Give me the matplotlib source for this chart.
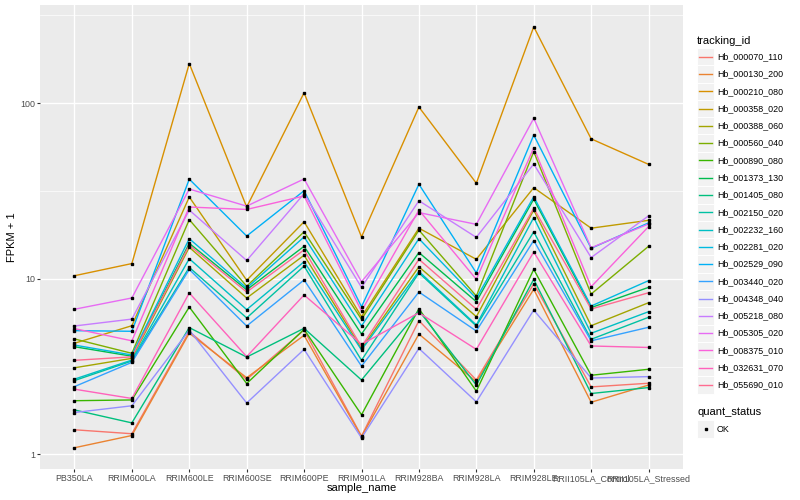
import matplotlib
matplotlib.use("Agg")
import matplotlib.pyplot as plt
from matplotlib.patches import Rectangle
from matplotlib.lines import Line2D

plt.rcParams['font.family'] = ['Liberation Sans', 'DejaVu Sans']

samples = ["PB350LA", "RRIM600LA", "RRIM600LE", "RRIM600SE", "RRIM600PE",
           "RRIM901LA", "RRIM928BA", "RRIM928LA", "RRIM928LE",
           "RRII105LA_Control", "RRII105LA_Stressed"]

tracking_ids = ["Hb_000070_110", "Hb_000130_200", "Hb_000210_080", "Hb_000358_020",
                "Hb_000388_060", "Hb_000560_040", "Hb_000890_080", "Hb_001373_130",
                "Hb_001405_080", "Hb_002150_020", "Hb_002232_160", "Hb_002281_020",
                "Hb_002529_090", "Hb_003440_020", "Hb_004348_040", "Hb_005218_080",
                "Hb_005305_020", "Hb_008375_010", "Hb_032631_070", "Hb_055690_010"]

colors = ["#F8766D", "#EA8331", "#D89000", "#C09B00", "#A3A500", "#7CAE00",
          "#39B600", "#00BB4E", "#00BF7D", "#00C1A3", "#00BFC4", "#00BAE0",
          "#00B0F6", "#35A2FF", "#9590FF", "#C77CFF", "#E76BF3", "#FA62DB",
          "#FF62BC", "#FF6C91"]

# FPKM + 1 values per sample
hb_000070_110 = [1.38, 1.31, 5.0, 2.67, 5.10, 1.27, 5.77, 2.65, 9.35, 2.42, 2.54]
hb_000130_200 = [1.09, 1.28, 4.9, 2.73, 4.76, 1.26, 4.84, 2.59, 8.71, 1.98, 2.48]
hb_000210_080 = [10.4, 12.2, 168, 25.6, 114.5, 17.3, 95, 35, 272, 62.6, 44.8]
hb_000358_020 = [4.29, 5.40, 29.2, 9.8, 21.1, 6.08, 19.4, 12.9, 33.0, 19.4, 21.5]
hb_000388_060 = [3.11, 3.52, 15.1, 7.76, 13.6, 4.01, 11.7, 6.08, 24.6, 5.40, 7.30]
hb_000560_040 = [4.54, 3.76, 21.7, 9.06, 18.5, 5.87, 18.9, 7.97, 52.9, 8.18, 15.3]
hb_000890_080 = [2.02, 2.04, 6.9, 2.53, 5.15, 1.68, 6.75, 2.29, 11.3, 2.82, 3.05]
hb_001373_130 = [4.10, 3.62, 15.9, 8.65, 15.3, 4.84, 14.1, 7.40, 28.4, 6.85, 8.93]
hb_001405_080 = [1.79, 1.51, 5.27, 3.58, 5.22, 2.65, 6.58, 2.48, 9.92, 2.22, 2.40]
hb_002150_020 = [2.63, 3.40, 11.6, 5.98, 11.8, 3.43, 10.8, 5.38, 18.5, 4.52, 6.03]
hb_002232_160 = [2.68, 3.44, 13.0, 6.67, 12.5, 3.93, 11.0, 5.45, 22.3, 4.89, 6.49]
hb_002281_020 = [4.19, 3.68, 16.9, 8.85, 17.3, 5.38, 16.9, 7.73, 29.3, 6.99, 9.75]
hb_002529_090 = [5.06, 5.02, 36.9, 17.5, 31.7, 6.93, 34.5, 10.8, 65.8, 14.9, 20.8]
hb_003440_020 = [2.43, 3.34, 11.3, 5.38, 9.84, 3.18, 8.40, 5.04, 16.5, 4.43, 5.29]
hb_004348_040 = [1.73, 1.89, 5.1, 1.96, 3.96, 1.24, 4.01, 1.99, 6.63, 2.72, 2.77]
hb_005218_080 = [5.38, 5.89, 24.6, 12.7, 30.5, 8.93, 27.8, 17.2, 45.0, 13.2, 22.8]
hb_005305_020 = [6.70, 7.77, 32.4, 25.9, 37.0, 9.61, 23.8, 20.4, 81.9, 15.0, 20.5]
hb_008375_010 = [5.20, 4.43, 25.6, 24.8, 29.6, 6.55, 24.6, 9.92, 55.7, 9.0, 19.8]
hb_032631_070 = [2.35, 2.08, 8.3, 3.6, 8.08, 4.23, 6.40, 3.96, 14.2, 4.14, 4.06]
hb_055690_010 = [3.43, 3.59, 15.5, 8.4, 14.6, 4.10, 12.9, 6.70, 25.2, 6.72, 8.32]

series = [hb_000070_110, hb_000130_200, hb_000210_080, hb_000358_020, hb_000388_060,
          hb_000560_040, hb_000890_080, hb_001373_130, hb_001405_080, hb_002150_020,
          hb_002232_160, hb_002281_020, hb_002529_090, hb_003440_020, hb_004348_040,
          hb_005218_080, hb_005305_020, hb_008375_010, hb_032631_070, hb_055690_010]

W, H = 800, 500
fig = plt.figure(figsize=(8, 5), dpi=100)
fig.patch.set_facecolor("white")

def fx(x):
    return x / W

def fy(y):
    return 1 - y / H

L, R, T, B = 40, 683, 5, 469
ax = fig.add_axes([fx(L), fy(B), fx(R - L), (B - T) / H])
ax.set_facecolor("#EBEBEB")
for s in ax.spines.values():
    s.set_visible(False)

xs = list(range(len(samples)))
for vals, c in zip(series, colors):
    ax.plot(xs, vals, color=c, lw=1.0, zorder=3)
for vals in series:
    ax.plot(xs, vals, ls="none", marker="s", ms=2.1, color="black", zorder=4)

ax.set_yscale("log")
ax.set_ylim(0.825, 362)
ax.set_xlim(-0.6, len(samples) - 0.4)
ax.set_yticks([1, 10, 100])
ax.set_yticklabels(["1", "10", "100"])
ax.set_yticks([10 ** 0.5, 10 ** 1.5, 10 ** 2.5], minor=True)
ax.set_xticks(xs)
ax.set_xticklabels(samples)
ax.grid(which="major", color="white", lw=1.0, zorder=0)
ax.grid(which="minor", axis="y", color="white", lw=0.5, zorder=0)
ax.set_axisbelow(True)
ax.tick_params(which="major", length=2.0, width=0.8, color="#333333",
               labelsize=6.4, labelcolor="#4D4D4D", pad=1.6)
ax.tick_params(which="minor", length=0)

fig.text(fx((L + R) / 2), fy(488), "sample_name", ha="center", va="center", fontsize=8)
fig.text(fx(12), fy((T + B) / 2), "FPKM + 1", ha="center", va="center",
         rotation=90, fontsize=8)

# legend: tracking_id
fig.text(fx(697), fy(40.5), "tracking_id", ha="left", va="center", fontsize=8)
key_h = 17.28
y0 = 56.7
for i, (name, c) in enumerate(zip(tracking_ids, colors)):
    yc = y0 + key_h * i
    fig.patches.append(Rectangle((fx(697), fy(yc + key_h / 2)), fx(17), key_h / H,
                                 transform=fig.transFigure, facecolor="#F2F2F2",
                                 edgecolor="white", lw=0.7))
    fig.lines.append(Line2D([fx(698.5), fx(712)], [fy(yc), fy(yc)],
                            transform=fig.transFigure, color=c, lw=1.0))
    fig.text(fx(717), fy(yc), name, ha="left", va="center", fontsize=6.4)

# legend: quant_status
fig.text(fx(697), fy(412), "quant_status", ha="left", va="center", fontsize=8)
yc = 429
fig.patches.append(Rectangle((fx(697), fy(yc + key_h / 2)), fx(17), key_h / H,
                             transform=fig.transFigure, facecolor="#F2F2F2",
                             edgecolor="white", lw=0.7))
fig.lines.append(Line2D([fx(705.5)], [fy(yc)], transform=fig.transFigure,
                        ls="none", marker="s", ms=2.1, color="black"))
fig.text(fx(717), fy(yc), "OK", ha="left", va="center", fontsize=6.4)

fig.savefig("out.png", dpi=100)
